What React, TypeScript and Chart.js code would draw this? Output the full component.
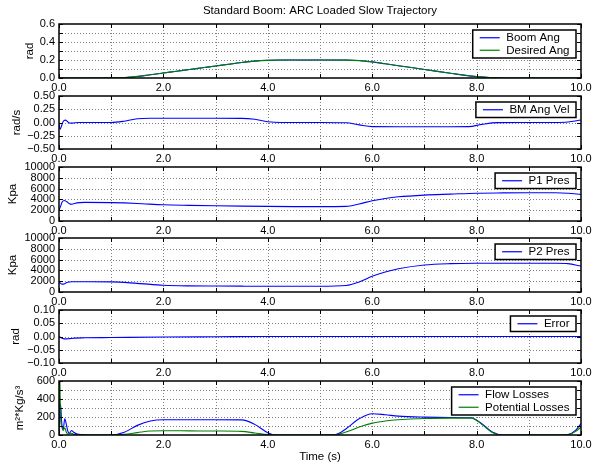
import React, { useEffect, useRef } from 'react';
import { Chart, registerables } from 'chart.js';

Chart.register(...registerables);

const FONT = '"Liberation Sans", Arial, Helvetica, sans-serif';
const BLUE = '#0000ff';
const GREEN = '#008000';

// ---------- data ----------
const chartTitle = 'Standard Boom: ARC Loaded Slow Trajectory';
const xTitle = 'Time (s)';

const tAng = [0, 0.5, 1.0, 1.25, 1.5, 1.75, 2.0, 2.25, 2.5, 2.75, 3.0, 3.25, 3.5, 3.75, 4.0, 4.25, 4.5, 5.0, 5.5, 5.75, 6.0, 6.25, 6.5, 6.75, 7.0, 7.25, 7.5, 7.75, 8.0, 8.25, 8.5, 9.0, 9.5, 10.0];
const boomAng = [0, 0, 0, 0.003, 0.017, 0.036, 0.055, 0.075, 0.094, 0.114, 0.133, 0.153, 0.172, 0.188, 0.197, 0.2, 0.2, 0.2, 0.1995, 0.195, 0.179, 0.158, 0.137, 0.116, 0.095, 0.074, 0.053, 0.032, 0.015, 0.004, 0, 0, 0, 0];
const desiredAng = [0, 0, 0.001, 0.005, 0.018, 0.036, 0.055, 0.075, 0.094, 0.114, 0.133, 0.153, 0.172, 0.187, 0.196, 0.2, 0.2, 0.2, 0.199, 0.193, 0.178, 0.158, 0.137, 0.116, 0.095, 0.074, 0.053, 0.033, 0.016, 0.005, 0, 0, 0, 0];

const tVel = [0, 0.02, 0.05, 0.08, 0.12, 0.16, 0.2, 0.25, 0.3, 0.4, 1.0, 1.25, 1.5, 1.75, 2.0, 2.5, 3.0, 3.5, 3.75, 4.0, 4.25, 5.0, 5.5, 5.75, 6.0, 6.5, 7.0, 7.5, 7.85, 8.1, 8.4, 9.0, 9.5, 9.75, 10.0];
const bmAngVel = [-0.02, -0.13, -0.06, 0.02, 0.045, 0.02, -0.01, -0.012, -0.005, 0, 0, 0.025, 0.07, 0.08, 0.08, 0.08, 0.08, 0.078, 0.06, 0.015, 0, 0, -0.005, -0.045, -0.078, -0.08, -0.08, -0.08, -0.078, -0.035, -0.002, 0, 0, 0.008, 0.048];

const tPres = [0, 0.03, 0.06, 0.1, 0.15, 0.2, 0.25, 0.3, 0.4, 0.5, 1.0, 1.5, 2.0, 2.5, 3.0, 3.5, 4.0, 4.5, 5.0, 5.5, 5.75, 6.0, 6.25, 6.5, 7.0, 7.5, 8.0, 8.5, 9.0, 9.5, 9.75, 10.0];
const p1Pres = [2000, 2700, 3500, 3800, 3550, 3200, 3100, 3250, 3400, 3450, 3400, 3250, 3000, 2900, 2820, 2750, 2700, 2670, 2660, 2700, 3150, 3750, 4180, 4480, 4800, 4980, 5150, 5200, 5220, 5220, 5150, 4900];
const p2Pres = [1900, 1600, 1450, 1500, 1750, 1850, 1900, 1900, 1900, 1900, 1880, 1600, 1250, 1130, 1100, 1080, 1070, 1070, 1070, 1200, 1850, 2900, 3700, 4300, 5000, 5250, 5320, 5330, 5330, 5320, 5250, 4800];

const tErr = [0, 0.05, 0.1, 0.15, 0.2, 0.3, 0.5, 1.0, 2.0, 3.0, 4.0, 5.0, 6.0, 7.0, 8.0, 9.0, 10.0];
const errorVals = [0, -0.006, -0.009, -0.009, -0.008, -0.006, -0.005, -0.004, -0.002, -0.001, 0, 0, 0, 0, 0, 0, 0];

const tLoss = [0, 0.005, 0.015, 0.03, 0.05, 0.08, 0.11, 0.14, 0.17, 0.2, 0.24, 0.28, 0.35, 0.45, 0.6, 1.0, 1.25, 1.5, 1.75, 2.0, 2.5, 3.0, 3.5, 3.75, 4.0, 4.15, 5.0, 5.3, 5.5, 5.75, 6.0, 6.25, 6.5, 7.0, 7.5, 7.9, 8.1, 8.3, 8.5, 9.0, 9.6, 9.75, 9.9, 10.0];
const flowLosses = [0, 150, 300, 345, 150, 60, 180, 120, 40, 20, 50, 30, 10, 5, 0, 0, 30, 107, 155, 169, 170, 170, 168, 118, 26, 0, 0, 5, 70, 180, 236, 225, 210, 199, 195, 191, 125, 33, 0, 0, 0, 5, 55, 127];
const potentialLosses = [0, 700, 650, 200, 100, 50, 80, 30, 10, 15, 20, 8, 3, 0, 0, 0, 8, 26, 44, 48, 46, 44, 40, 22, 4, 0, 0, 2, 33, 88, 132, 155, 169, 184, 188, 188, 118, 29, 0, 0, 0, 3, 40, 90];

// ---------- panel specs ----------
const fmt = (v: number, d: number) => (v < -1e-9 ? '\u2212' : '') + Math.abs(v).toFixed(d);

type Series = { label: string; color: string; t: number[]; v: number[] };
type Panel = {
  yTitle: string; yTitlePad: number; yMin: number; yMax: number; yStep: number;
  yLabel: (v: number) => string; series: Series[];
};

const panels: Panel[] = [
  { yTitle: 'rad', yTitlePad: 23, yMin: 0, yMax: 0.6, yStep: 0.1,
    yLabel: (v) => (Math.round(v * 10) % 2 === 0 ? fmt(v, 1) : ''),
    series: [{ label: 'Boom Ang', color: BLUE, t: tAng, v: boomAng }, { label: 'Desired Ang', color: GREEN, t: tAng, v: desiredAng }] },
  { yTitle: 'rad/s', yTitlePad: 10, yMin: -0.5, yMax: 0.5, yStep: 0.25,
    yLabel: (v) => fmt(v, 2),
    series: [{ label: 'BM Ang Vel', color: BLUE, t: tVel, v: bmAngVel }] },
  { yTitle: 'Kpa', yTitlePad: 6, yMin: 0, yMax: 10000, yStep: 2000,
    yLabel: (v) => String(Math.round(v)),
    series: [{ label: 'P1 Pres', color: BLUE, t: tPres, v: p1Pres }] },
  { yTitle: 'Kpa', yTitlePad: 6, yMin: 0, yMax: 10000, yStep: 2000,
    yLabel: (v) => String(Math.round(v)),
    series: [{ label: 'P2 Pres', color: BLUE, t: tPres, v: p2Pres }] },
  { yTitle: 'rad', yTitlePad: 9, yMin: -0.1, yMax: 0.1, yStep: 0.05,
    yLabel: (v) => fmt(v, 2),
    series: [{ label: 'Error', color: BLUE, t: tErr, v: errorVals }] },
  { yTitle: 'm\u00b2*Kg/s\u00b3', yTitlePad: 13, yMin: 0, yMax: 600, yStep: 100,
    yLabel: (v) => (Math.round(v / 100) % 2 === 0 ? String(Math.round(v)) : ''),
    series: [{ label: 'Flow Losses', color: BLUE, t: tLoss, v: flowLosses }, { label: 'Potential Losses', color: GREEN, t: tLoss, v: potentialLosses }] },
];

// layout (pixels)
const W = 594;
const H = 466;
const PLOT_LEFT = 59;
const PLOT_RIGHT = 581;
const TOPS = [24, 96, 167, 238, 310, 381];
const BOTTOMS = [78, 149, 221, 292, 363, 435];

function geom(i: number) {
  const top = i === 0 ? 0 : TOPS[i] - 8;
  const bottom = i === panels.length - 1 ? H : BOTTOMS[i] + 18;
  return { top, height: bottom - top, padTop: i === 0 ? 0 : TOPS[i] - top, xH: bottom - BOTTOMS[i] };
}

const framePlugin = {
  id: 'matlabFrame',
  beforeDatasetsDraw(chart: any) {
    const { ctx, chartArea: a } = chart;
    const x = chart.scales.x;
    const y = chart.scales.y;
    ctx.save();
    ctx.strokeStyle = '#808080';
    ctx.lineWidth = 1;
    ctx.setLineDash([1, 2]);
    ctx.beginPath();
    x.ticks.forEach((t: any) => {
      if (t.value <= x.min + 1e-9 || t.value >= x.max - 1e-9) return;
      const px = Math.round(x.getPixelForValue(t.value)) + 0.5;
      ctx.moveTo(px, a.top);
      ctx.lineTo(px, a.bottom);
    });
    const eps = (y.max - y.min) * 1e-6;
    y.ticks.forEach((t: any) => {
      if (t.value <= y.min + eps || t.value >= y.max - eps) return;
      const py = Math.round(y.getPixelForValue(t.value)) + 0.5;
      ctx.moveTo(a.left, py);
      ctx.lineTo(a.right, py);
    });
    ctx.stroke();
    ctx.restore();
  },
  afterDatasetsDraw(chart: any) {
    const { ctx, chartArea: a } = chart;
    const x = chart.scales.x;
    const y = chart.scales.y;
    const TL = 4;
    ctx.save();
    ctx.strokeStyle = '#000';
    ctx.lineWidth = 1;
    ctx.beginPath();
    x.ticks.forEach((t: any) => {
      const px = Math.round(x.getPixelForValue(t.value)) + 0.5;
      ctx.moveTo(px, a.bottom); ctx.lineTo(px, a.bottom - TL);
      ctx.moveTo(px, a.top); ctx.lineTo(px, a.top + TL);
    });
    y.ticks.forEach((t: any) => {
      const py = Math.round(y.getPixelForValue(t.value)) + 0.5;
      ctx.moveTo(a.left, py); ctx.lineTo(a.left + TL, py);
      ctx.moveTo(a.right, py); ctx.lineTo(a.right - TL, py);
    });
    ctx.stroke();
    ctx.lineWidth = 1.5;
    ctx.strokeRect(a.left, a.top, a.right - a.left, a.bottom - a.top);

    // legend box
    const ds = chart.data.datasets;
    ctx.font = `11.5px ${FONT}`;
    let tw = 0;
    ds.forEach((d: any) => { tw = Math.max(tw, ctx.measureText(d.label).width); });
    const rowH = 12.5;
    const pad = 1.5;
    const bw = 7 + 20 + 6.5 + tw + 6.5;
    const bh = pad * 2 + rowH * ds.length;
    const bx = a.right - 5 - bw;
    const by = a.top + 6;
    ctx.fillStyle = '#fff';
    ctx.fillRect(bx, by, bw, bh);
    ctx.lineWidth = 1.5;
    ctx.strokeStyle = '#000';
    ctx.strokeRect(bx, by, bw, bh);
    ds.forEach((d: any, k: number) => {
      const cy = by + pad + rowH * (k + 0.5);
      ctx.strokeStyle = d.borderColor;
      ctx.lineWidth = 1.2;
      ctx.beginPath();
      ctx.moveTo(bx + 7, cy);
      ctx.lineTo(bx + 27, cy);
      ctx.stroke();
      ctx.fillStyle = '#000';
      ctx.textAlign = 'left';
      ctx.textBaseline = 'middle';
      ctx.fillText(d.label, bx + 33.5, cy + 0.5);
    });
    ctx.restore();
  },
};

function buildConfig(p: Panel, i: number): any {
  const g = geom(i);
  const last = i === panels.length - 1;
  const n = p.series.length;
  return {
    type: 'line',
    data: {
      datasets: p.series.map((s, k) => ({
        label: s.label,
        data: s.t.map((tx, j) => ({ x: tx, y: s.v[j] })),
        borderColor: s.color,
        backgroundColor: s.color,
        borderWidth: 1.1,
        pointRadius: 0,
        fill: false,
        // later series drawn on top, as in the reference
        order: n - 1 - k,
        cubicInterpolationMode: 'monotone',
      })),
    },
    plugins: [framePlugin],
    options: {
      responsive: false,
      maintainAspectRatio: false,
      animation: false,
      events: [],
      layout: { padding: { top: g.padTop, right: W - PLOT_RIGHT, left: 0, bottom: 0 } },
      plugins: {
        legend: { display: false },
        tooltip: { enabled: false },
        title: {
          display: i === 0,
          text: chartTitle,
          fullSize: false,
          color: '#000',
          font: { family: FONT, size: 11.5, weight: 'normal' },
          padding: { top: 4, bottom: 6.2 },
        },
      },
      scales: {
        x: {
          type: 'linear',
          min: 0,
          max: 10,
          grid: { display: false, drawTicks: false },
          border: { display: false },
          ticks: {
            stepSize: 1,
            autoSkip: false,
            maxRotation: 0,
            padding: 3,
            color: '#000',
            font: { family: FONT, size: 11 },
            callback: (v: number) => (Math.round(v) % 2 === 0 ? Number(v).toFixed(1) : ''),
          },
          title: {
            display: last,
            text: xTitle,
            color: '#000',
            font: { family: FONT, size: 11.5 },
            padding: { top: 0, bottom: 2 },
          },
          afterFit: (s: any) => { s.height = g.xH; s.paddingLeft = 0; s.paddingRight = 0; },
        },
        y: {
          type: 'linear',
          min: p.yMin,
          max: p.yMax,
          grid: { display: false, drawTicks: false },
          border: { display: false },
          ticks: {
            stepSize: p.yStep,
            autoSkip: false,
            padding: 4,
            color: '#000',
            font: { family: FONT, size: 11 },
            callback: (v: number) => p.yLabel(Number(v)),
          },
          title: {
            display: true,
            text: p.yTitle,
            color: '#000',
            font: { family: FONT, size: 11.5 },
            padding: { top: p.yTitlePad, bottom: 0 },
          },
          afterFit: (s: any) => { s.width = PLOT_LEFT; s.paddingTop = 0; s.paddingBottom = 0; },
        },
      },
    },
  };
}

export default function App() {
  const refs = useRef<(HTMLCanvasElement | null)[]>([]);
  useEffect(() => {
    const charts = panels.map((p, i) => new Chart(refs.current[i] as HTMLCanvasElement, buildConfig(p, i)));
    return () => charts.forEach((c) => c.destroy());
  }, []);
  return (
    <div style={{ position: 'fixed', left: 0, top: 0, width: W, height: H, background: '#fff', overflow: 'hidden' }}>
      {panels.map((p, i) => {
        const g = geom(i);
        return (
          <canvas
            key={i}
            ref={(el) => { refs.current[i] = el; }}
            width={W}
            height={g.height}
            style={{ position: 'absolute', left: 0, top: g.top, width: W, height: g.height }}
          />
        );
      })}
    </div>
  );
}
